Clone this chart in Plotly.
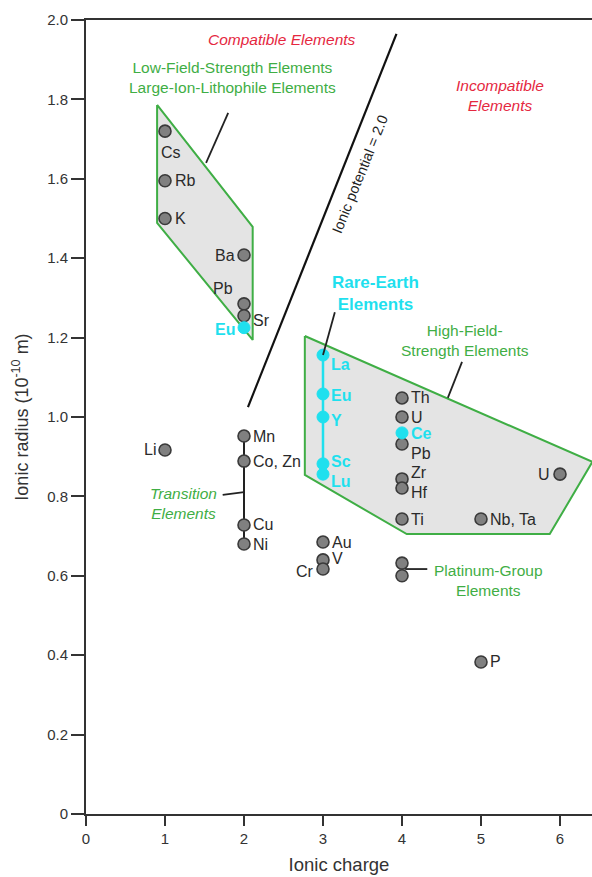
import plotly.graph_objects as go

# ---- data -------------------------------------------------------------
# large-ion lithophile elements (gray)
lile_names = ["Cs", "Rb", "K", "Ba", "Pb", "Sr"]
lile_charge = [1, 1, 1, 2, 2, 2]
lile_radius = [1.72, 1.595, 1.50, 1.408, 1.285, 1.255]

# europium (2+) sitting with the LILE
eu2_charge = [2]
eu2_radius = [1.225]

# transition elements
trans_names = ["Mn", "Co, Zn", "Cu", "Ni"]
trans_charge = [2, 2, 2, 2]
trans_radius = [0.952, 0.889, 0.728, 0.68]

# other ions
other_names = ["Li", "Au", "V", "Cr"]
other_charge = [1, 3, 3, 3]
other_radius = [0.917, 0.685, 0.64, 0.617]

# rare-earth elements (3+)
ree_names = ["La", "Eu", "Y", "Sc", "Lu"]
ree_charge = [3, 3, 3, 3, 3]
ree_radius = [1.156, 1.058, 1.0, 0.882, 0.856]

# cerium (4+)
ce_charge = [4]
ce_radius = [0.96]

# high-field-strength elements
hfse_names = ["Th", "U", "Pb", "Zr", "Hf", "Ti", "U", "Nb, Ta"]
hfse_charge = [4, 4, 4, 4, 4, 4, 6, 5]
hfse_radius = [1.048, 1.0, 0.932, 0.844, 0.821, 0.743, 0.856, 0.743]

# platinum-group elements
pge_charge = [4, 4]
pge_radius = [0.632, 0.60]

# phosphorus
p_charge = [5]
p_radius = [0.383]

# field outlines (charge, radius)
lile_field_x = [0.90, 0.90, 2.11, 2.11, 0.90]
lile_field_y = [1.786, 1.489, 1.194, 1.479, 1.786]
hfse_field_x = [2.77, 6.41, 5.87, 4.06, 2.77, 2.77]
hfse_field_y = [1.204, 0.887, 0.705, 0.705, 0.854, 1.204]

# ionic potential (charge / radius) = 2.0
ip_value = 2.0
ip_charge = [2.05, 3.93]
ip_radius = [c / ip_value for c in ip_charge]

x_ticks = [0, 1, 2, 3, 4, 5, 6]
y_ticks = [0, 0.2, 0.4, 0.6, 0.8, 1.0, 1.2, 1.4, 1.6, 1.8, 2.0]
y_ticktext = ["0", "0.2", "0.4", "0.6", "0.8", "1.0", "1.2", "1.4", "1.6", "1.8", "2.0"]

# ---- styling ------------------------------------------------------------
FONT = "Liberation Sans, Arial, Helvetica, sans-serif"
GRAY_FILL = "#808080"
GRAY_LINE = "#3a3a3a"
CYAN = "#1fe0ee"
GREEN = "#3fae45"
RED = "#e5283f"
TXT = "#2a2a2a"
FIELD_FILL = "#e4e4e4"
LABEL_SIZE = 16
CAPTION_SIZE = 15.5

gray_marker = dict(size=12, color=GRAY_FILL, line=dict(color=GRAY_LINE, width=1.6))
cyan_marker = dict(size=12, color=CYAN, line=dict(color=CYAN, width=1))

fig = go.Figure()

# shaded fields
for fx, fy in [(lile_field_x, lile_field_y), (hfse_field_x, hfse_field_y)]:
    fig.add_trace(go.Scatter(x=fx, y=fy, mode="lines", fill="toself",
                             fillcolor=FIELD_FILL, line=dict(color=GREEN, width=2),
                             hoverinfo="skip"))

# ionic potential line
fig.add_trace(go.Scatter(x=ip_charge, y=ip_radius, mode="lines",
                         line=dict(color="#111111", width=2.2), hoverinfo="skip"))

# connecting stems
fig.add_trace(go.Scatter(x=[trans_charge[0], trans_charge[-1]],
                         y=[max(trans_radius), min(trans_radius)], mode="lines",
                         line=dict(color="#222222", width=2), hoverinfo="skip"))
fig.add_trace(go.Scatter(x=[ree_charge[0], ree_charge[-1]],
                         y=[max(ree_radius), min(ree_radius)], mode="lines",
                         line=dict(color=CYAN, width=2.5), hoverinfo="skip"))

# points
for cx, ry in [(lile_charge, lile_radius), (trans_charge, trans_radius),
               (other_charge, other_radius), (hfse_charge, hfse_radius),
               (pge_charge, pge_radius), (p_charge, p_radius)]:
    fig.add_trace(go.Scatter(x=cx, y=ry, mode="markers", marker=gray_marker))
for cx, ry in [(eu2_charge, eu2_radius), (ree_charge, ree_radius), (ce_charge, ce_radius)]:
    fig.add_trace(go.Scatter(x=cx, y=ry, mode="markers", marker=cyan_marker))

# ---- point labels -------------------------------------------------------
def label(x, y, text, anchor="left", dx=9, dy=0, color=TXT, bold=False, size=LABEL_SIZE):
    t = f"<b>{text}</b>" if bold else text
    fig.add_annotation(x=x, y=y, text=t, showarrow=False, xanchor=anchor,
                       yanchor="middle", xshift=dx, yshift=dy,
                       font=dict(family=FONT, size=size, color=color))

lile_place = {"Cs": ("center", 6, -21), "Rb": ("left", 8, 0), "K": ("left", 8, 0),
              "Ba": ("right", -7, 0), "Pb": ("right", -9, 15), "Sr": ("left", 7, -5)}
for n, x, y in zip(lile_names, lile_charge, lile_radius):
    a, dx, dy = lile_place[n]
    label(x, y, n, a, dx, dy)
label(eu2_charge[0], eu2_radius[0], "Eu", "right", -7, -2, CYAN, True)

for n, x, y in zip(trans_names, trans_charge, trans_radius):
    label(x, y, n, "left", 7, 0)

other_place = {"Li": ("right", -7, 0), "Au": ("left", 7, 0), "V": ("left", 7, 1),
               "Cr": ("right", -7, -2)}
for n, x, y in zip(other_names, other_charge, other_radius):
    a, dx, dy = other_place[n]
    label(x, y, n, a, dx, dy)

ree_dy = [-9, -2, -3, 2, -7]
for n, x, y, dy in zip(ree_names, ree_charge, ree_radius, ree_dy):
    label(x, y, n, "left", 6, dy, CYAN, True)
label(ce_charge[0], ce_radius[0], "Ce", "left", 7, -1, CYAN, True)

hfse_place = [("left", 7, 0), ("left", 7, 0), ("left", 7, -9), ("left", 7, 6),
              ("left", 7, -4), ("left", 7, 0), ("right", -8, 0), ("left", 7, 0)]
for n, x, y, (a, dx, dy) in zip(hfse_names, hfse_charge, hfse_radius, hfse_place):
    label(x, y, n, a, dx, dy)

label(p_charge[0], p_radius[0], "P", "left", 7, 0)

# ---- group captions -----------------------------------------------------
def caption(x, y, text, color, italic=False, bold=False, size=CAPTION_SIZE, angle=0):
    t = text
    if bold:
        t = f"<b>{t}</b>"
    if italic:
        t = f"<i>{t}</i>"
    fig.add_annotation(x=x, y=y, text=t, showarrow=False, textangle=angle,
                       xanchor="center", yanchor="middle", align="center",
                       font=dict(family=FONT, size=size, color=color))

caption(2.48, 1.950, "Compatible Elements", RED, italic=True)
caption(5.24, 1.811, "Incompatible<br>Elements", RED, italic=True)
caption(1.85, 1.855, "Low-Field-Strength Elements<br>Large-Ion-Lithophile Elements", GREEN)
caption(3.67, 1.312, "Rare-Earth<br>Elements", CYAN, bold=True, size=17)
caption(4.80, 1.192, "High-Field-<br>Strength Elements", GREEN)
caption(1.24, 0.782, "Transition<br>Elements", GREEN, italic=True)
caption(5.09, 0.587, "Platinum-Group<br>Elements", GREEN)
caption(3.47, 1.612, "Ionic potential = 2.0", "#222222", size=14.5, angle=-68)

# leader lines
leaders = [((1.80, 1.766), (1.52, 1.640)),
           ((3.15, 1.264), (3.0, 1.156)),
           ((4.76, 1.139), (4.58, 1.048)),
           ((1.73, 0.804), (2.0, 0.811)),
           ((4.04, 0.617), (4.32, 0.617))]
for (x0, y0), (x1, y1) in leaders:
    fig.add_shape(type="line", x0=x0, y0=y0, x1=x1, y1=y1,
                  line=dict(color="#222222", width=1.8))

# ---- axes ---------------------------------------------------------------
axis_common = dict(showgrid=False, zeroline=False, showline=True, linecolor="#333333",
                   linewidth=2, ticks="outside", tickcolor="#333333", tickwidth=2,
                   tickfont=dict(family=FONT, size=15, color="#333333"))
fig.update_xaxes(range=[0, 6.405], tickvals=x_ticks, ticklen=10, mirror=True,
                 title=dict(text="Ionic charge", standoff=12,
                            font=dict(family=FONT, size=18.5, color="#333333")),
                 **axis_common)
fig.update_yaxes(range=[0, 2.0], tickvals=y_ticks, ticktext=y_ticktext, ticklen=13,
                 title=dict(text="Ionic radius (10<sup>-10</sup> m)", standoff=14,
                            font=dict(family=FONT, size=18, color="#333333")),
                 **axis_common)

fig.update_layout(width=592, height=877, showlegend=False,
                  margin=dict(l=86, r=0, t=20, b=63),
                  plot_bgcolor="white", paper_bgcolor="white")

fig.write_html("out.html")
